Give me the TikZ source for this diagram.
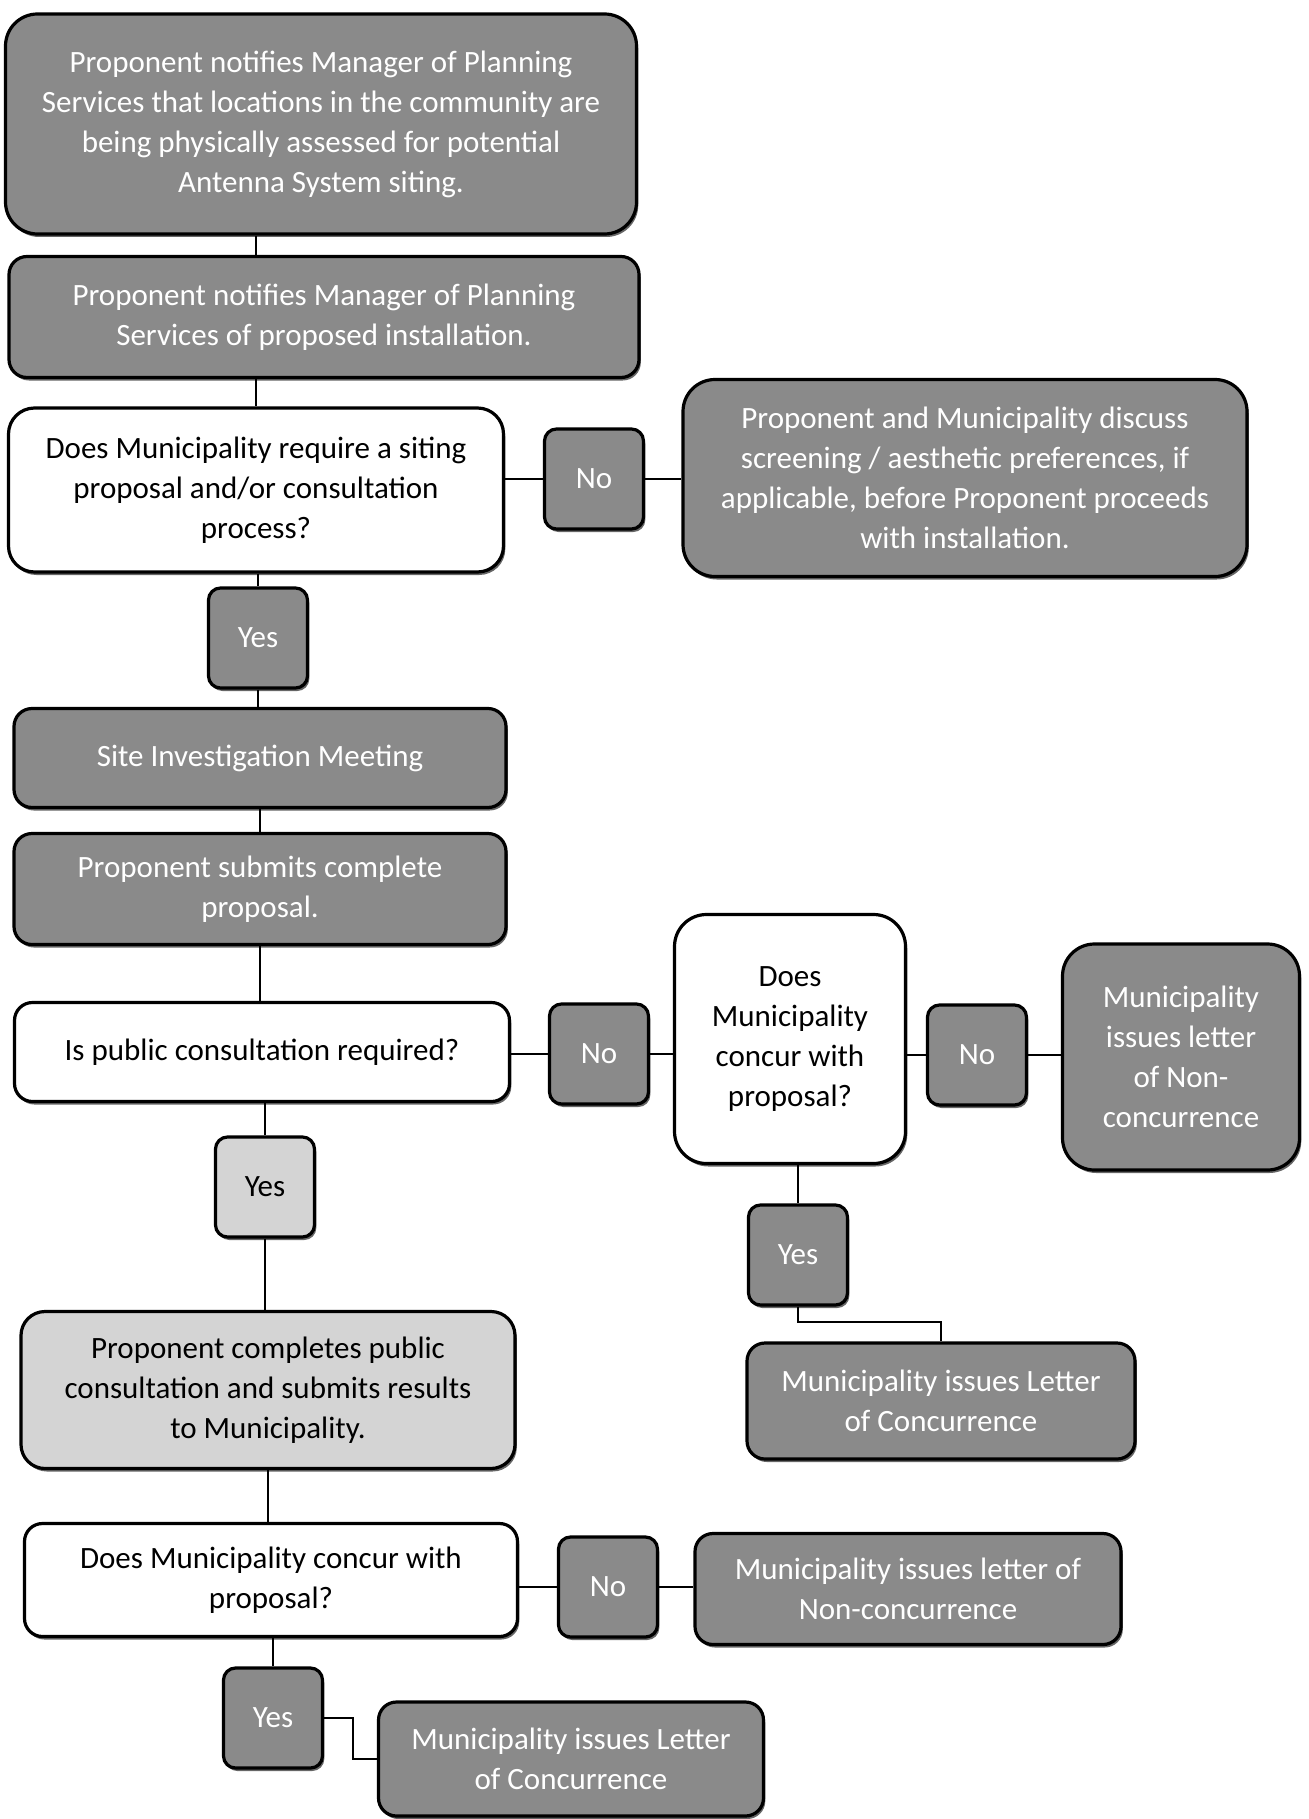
\documentclass[tikz,border=0pt]{standalone}
\usepackage{fontspec}
\setmainfont{Carlito}
\usepackage{tikz}
\usetikzlibrary{calc,shadows}
\definecolor{boxgrey}{HTML}{8A8A8A}
\definecolor{palegrey}{HTML}{D4D4D4}
\tikzset{
         flowbox/.style=
          {
           draw=black, line width=1.6pt, rounded corners=9pt,
           align=center, inner sep=2pt,
           font=\fontsize{15.5}{20}\selectfont,
           drop shadow={shadow xshift=0.9pt,shadow yshift=-1.5pt,fill=black!75,opacity=0.8}
          },
         darkbox/.style={flowbox, fill=boxgrey, text=white},
         palebox/.style={flowbox, fill=palegrey, text=black},
         whitebox/.style={flowbox, fill=white, text=black},
         tagbox/.style={minimum width=49.5pt, minimum height=50pt, rounded corners=6pt},
         link/.style={line width=0.9pt}
        }
\begin{document}
\begin{tikzpicture}[x=0.5pt,y=-0.5pt]
      \useasboundingbox (0,0) rectangle (1308,1819); % page
      % left column
      \node[darkbox,minimum width=315.5pt,minimum height=110pt,rounded corners=16pt] (n1) at (321,124) {Proponent notifies Manager of Planning\\Services that locations in the community are\\being physically assessed for potential\\Antenna System siting.}; % first notice
      \node[darkbox,minimum width=315pt,minimum height=60.5pt] (n2) at (324,317) {Proponent notifies Manager of Planning\\Services of proposed installation.}; % second notice
      \node[whitebox,minimum width=247.5pt,minimum height=82pt,rounded corners=13pt] (q1) at (256,490) {Does Municipality require a siting\\proposal and/or consultation\\process?}; % question 1
      \node[darkbox,tagbox] (no1) at (594,479) {No}; % No
      \node[darkbox,minimum width=282pt,minimum height=98.5pt,rounded corners=16pt] (n3) at (965,478) {Proponent and Municipality discuss\\screening / aesthetic preferences, if\\applicable, before Proponent proceeds\\with installation.}; % discuss
      \node[darkbox,tagbox] (yes1) at (258,638) {Yes}; % Yes
      \node[darkbox,minimum width=246pt,minimum height=49.5pt] (n4) at (260,758) {Site Investigation Meeting}; % meeting
      \node[darkbox,minimum width=246pt,minimum height=55.5pt] (n5) at (260,889) {Proponent submits complete\\proposal.}; % submits
      \node[whitebox,minimum width=247.5pt,minimum height=49.5pt] (q2) at (262,1052) {Is public consultation required?}; % question 2
      \node[darkbox,tagbox] (no2) at (599,1054) {No}; % No
      \node[whitebox,minimum width=115.5pt,minimum height=124.5pt,rounded corners=16pt] (q3) at (790,1039) {Does\\Municipality\\concur with\\proposal?}; % question 3
      \node[darkbox,tagbox] (no3) at (977,1055) {No}; % No
      \node[darkbox,minimum width=118.5pt,minimum height=113pt,rounded corners=16pt] (n6) at (1181,1057) {Municipality\\issues letter\\of Non-\\concurrence}; % non-concurrence
      \node[palebox,tagbox] (yes2) at (265,1187) {Yes}; % Yes
      \node[darkbox,tagbox] (yes3) at (798,1255) {Yes}; % Yes
      \node[darkbox,minimum width=194pt,minimum height=58pt] (n7) at (941,1401) {Municipality issues Letter\\of Concurrence}; % concurrence
      \node[palebox,minimum width=247pt,minimum height=78.5pt,rounded corners=12pt] (n8) at (268,1390) {Proponent completes public\\consultation and submits results\\to Municipality.}; % consultation
      \node[whitebox,minimum width=246.5pt,minimum height=56.5pt] (q4) at (271,1580) {Does Municipality concur with\\proposal?}; % question 4
      \node[darkbox,tagbox] (no4) at (608,1587) {No}; % No
      \node[darkbox,minimum width=213pt,minimum height=55.5pt] (n9) at (908,1589) {Municipality issues letter of\\Non-concurrence}; % non-concurrence
      \node[darkbox,tagbox] (yes4) at (273,1718) {Yes}; % Yes
      \node[darkbox,minimum width=192.5pt,minimum height=57pt] (n10) at (571,1759) {Municipality issues Letter\\of Concurrence}; % concurrence
      % Wiring
      \draw[link] (q1.north |- n1.south) -- (q1.north |- n2.north); % Wiring
      \draw[link] (q1.north |- n2.south) -- (q1.north); % Wiring
      \draw[link] (q1.east |- no1.west) -- (no1.west); % Wiring
      \draw[link] (no1.east) -- (no1.east -| n3.west); % Wiring
      \draw[link] (q1.south -| yes1) -- (yes1.north); % Wiring
      \draw[link] (yes1.south) -- (yes1.south |- n4.north); % Wiring
      \draw[link] (n4.south) -- (n5.north); % Wiring
      \draw[link] (n5.south) -- (n5.south |- q2.north); % Wiring
      \draw[link] (q2.east |- no2.west) -- (no2.west); % Wiring
      \draw[link] (no2.east) -- (no2.east -| q3.west); % Wiring
      \draw[link] (q3.east |- no3.west) -- (no3.west); % Wiring
      \draw[link] (no3.east) -- (no3.east -| n6.west); % Wiring
      \draw[link] (q2.south -| yes2) -- (yes2.north); % Wiring
      \draw[link] (yes2.south) -- (yes2.south |- n8.north); % Wiring
      \draw[link] (yes3.north |- q3.south) -- (yes3.north); % Wiring
      \coordinate (k1) at (941,1322); % elbow
      \draw[link] (yes3.south) |- (k1) -- (n7.north); % Wiring
      \draw[link] (n8.south) -- (n8.south |- q4.north); % Wiring
      \draw[link] (q4.east |- no4.west) -- (no4.west); % Wiring
      \draw[link] (no4.east) -- (no4.east -| n9.west); % Wiring
      \draw[link] (q4.south -| yes4) -- (yes4.north); % Wiring
      \coordinate (k2) at (353,1740); % elbow
      \draw[link] (yes4.east) -| (k2) |- (n10.west); % Wiring
\end{tikzpicture}
\end{document}
